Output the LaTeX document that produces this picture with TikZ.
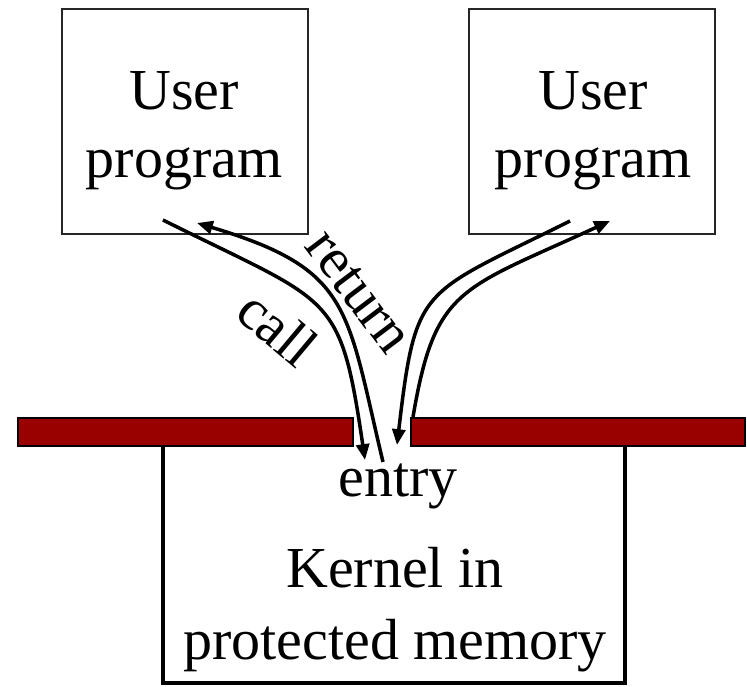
\documentclass[tikz,border=0pt]{standalone}
\usepackage{fontspec}
\setmainfont{Liberation Serif}
\usetikzlibrary{arrows.meta}
\definecolor{barred}{HTML}{990000}
\begin{document}
\begin{tikzpicture}[font=\fontsize{16.5}{19.8}\selectfont,
  ubox/.style={draw=black!85,line width=0.6pt,minimum width=2.46cm,minimum height=2.25cm,inner sep=0pt},
  txt/.style={anchor=base,inner sep=0pt},
  flow/.style={line width=1pt,-{Triangle[length=4.5pt,width=3.7pt]}}]
\useasboundingbox (0,0) rectangle (7.47,6.87);
\node[ubox] (userL) at (1.85,5.655) {};
\node[ubox] (userR) at (5.92,5.655) {};
\foreach \b/\x in {L/1.84,R/5.93} {
  \node[txt] (user\b1) at (\x,5.77) {User};
  \node[txt] (user\b2) at (\x,5.09) {program};
}
% kernel box, open at the top under the bars
\draw[line width=1.2pt] (1.63,2.41) -- (1.63,0.04) -- (6.25,0.04) -- (6.25,2.41);
\draw[fill=barred,line width=0.5pt] (0.18,2.41) rectangle (3.53,2.69);
\draw[fill=barred,line width=0.5pt] (4.11,2.41) rectangle (7.45,2.69);
\node[txt] (entry) at (3.98,1.90) {entry};
\node[txt] (kern1) at (3.95,0.99) {Kernel in};
\node[txt] (kern2) at (3.95,0.27) {protected memory};
% end points of the calls and returns
\coordinate (callL) at (1.63,4.67);
\coordinate (inL) at (3.65,2.27);
\coordinate (outL) at (3.83,2.25);
\coordinate (retL) at (1.97,4.64);
\coordinate (callR) at (5.70,4.66);
\coordinate (inR) at (3.97,2.42);
\coordinate (outR) at (4.13,2.70);
\coordinate (retR) at (6.10,4.66);
\draw[flow] (callL) .. controls (3.33,3.82) and (3.40,3.97) .. (inL);
\draw[flow] (outL) .. controls (3.46,3.80) and (3.52,4.175) .. (retL);
\draw[flow] (callR) .. controls (4.20,3.91) and (4.16,4.04) .. (inR);
\draw[flow] (outR) .. controls (4.35,4.00) and (4.60,3.97) .. (retR);
\node[rotate=-40,inner sep=0pt] (call) at (2.78,3.59) {call};
\node[rotate=-53,inner sep=0pt] (return) at (3.58,3.95) {return};
\end{tikzpicture}
\end{document}
